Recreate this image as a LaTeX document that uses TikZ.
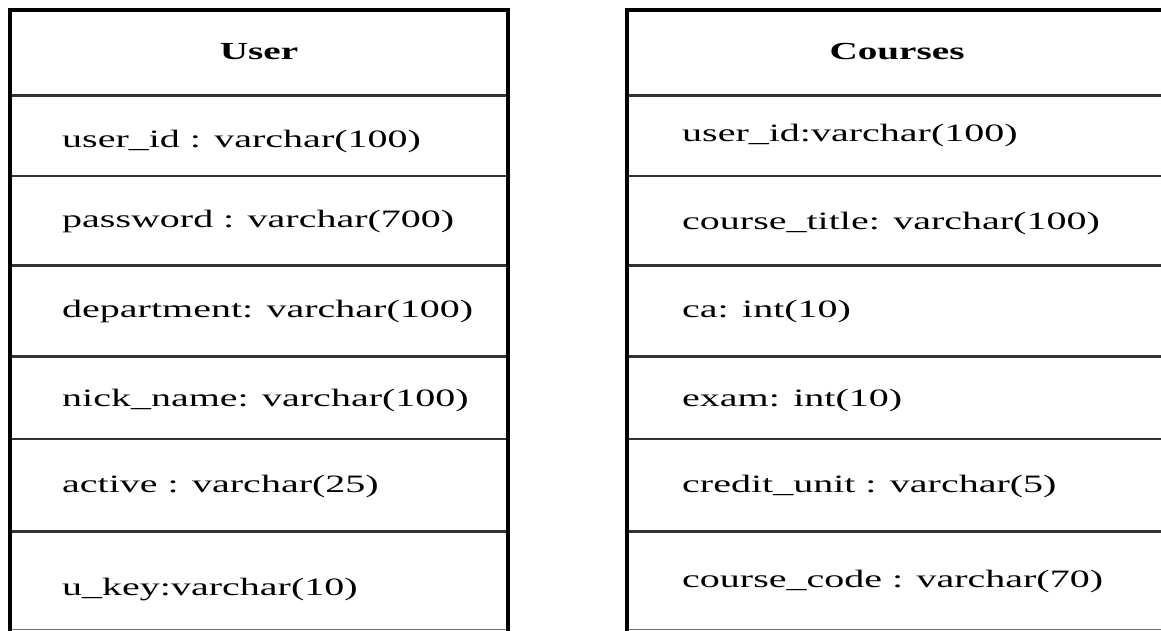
\documentclass[tikz,border=0pt]{standalone}
\usepackage{fontspec}
\setmainfont{Liberation Serif}
\newfontfamily\widefont[FakeStretch=1.6]{Liberation Serif}
\begin{document}
\begin{tikzpicture}[x=1pt,y=-1pt,
  outer/.style={draw=black, line width=4.5pt},
  rowsep/.style={draw=black!80, line width=2.2pt},
  bottomline/.style={draw=black!55, line width=1.5pt},
  field/.style={anchor=west, inner sep=0pt, font=\widefont\fontsize{25}{25}\selectfont},
  head/.style={inner sep=0pt, font=\widefont\bfseries\fontsize{24.5}{24.5}\selectfont}]
\useasboundingbox (0,0) rectangle (1161,630);
\begin{scope}
\clip (0,0) rectangle (1161,630);
\foreach \y in {95.5,176,265.5,356.5,439,531.5}{
  \draw[rowsep] (10,\y) -- (508,\y);
  \draw[rowsep] (627,\y) -- (1170,\y);
}
\draw[bottomline] (10,629.5) -- (508,629.5);
\draw[bottomline] (627,629.5) -- (1170,629.5);
% left table
\draw[outer] (508,640) -- (508,10) -- (10,10) -- (10,640);
% right table
\draw[outer] (627,640) -- (627,10) -- (1170,10);
\end{scope}
\node[head] (uhead) at (259,52) {User};
\node[head] (chead) at (897,52) {Courses};
\node[field] (u1) at (62,141) {user\_id : varchar(100)};
\node[field] (u2) at (62,221.5) {password : varchar(700)};
\node[field] (u3) at (62,311) {department: varchar(100)};
\node[field] (u4) at (62,400) {nick\_name: varchar(100)};
\node[field] (u5) at (62,486) {active : varchar(25)};
\node[field] (u6) at (62,590) {u\_key:varchar(10)};
\node[field] (c1) at (682,135) {user\_id:varchar(100)};
\node[field] (c2) at (682,223) {course\_title: varchar(100)};
\node[field] (c3) at (682,311) {ca: int(10)};
\node[field] (c4) at (682,400) {exam: int(10)};
\node[field] (c5) at (682,486) {credit\_unit : varchar(5)};
\node[field] (c6) at (682,581) {course\_code : varchar(70)};
\end{tikzpicture}
\end{document}
